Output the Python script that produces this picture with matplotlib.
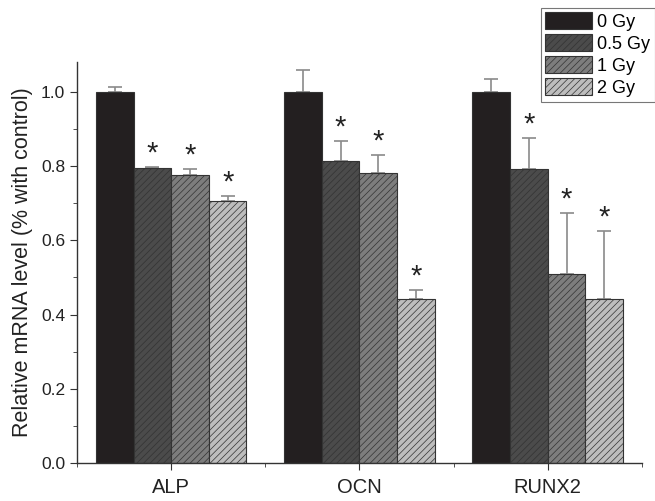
import numpy as np
import matplotlib
matplotlib.use("Agg")
import matplotlib.pyplot as plt
from matplotlib.ticker import MultipleLocator, FixedLocator

# Data
genes = ["ALP", "OCN", "RUNX2"]
doses = ["0 Gy", "0.5 Gy", "1 Gy", "2 Gy"]
means = {
    "0 Gy":   [1.000, 1.000, 1.000],
    "0.5 Gy": [0.795, 0.815, 0.791],
    "1 Gy":   [0.777, 0.781, 0.510],
    "2 Gy":   [0.707, 0.441, 0.443],
}
errors = {
    "0 Gy":   [0.013, 0.060, 0.034],
    "0.5 Gy": [0.004, 0.053, 0.086],
    "1 Gy":   [0.016, 0.050, 0.164],
    "2 Gy":   [0.012, 0.025, 0.183],
}
significant = {
    "0 Gy":   [False, False, False],
    "0.5 Gy": [True, True, True],
    "1 Gy":   [True, True, True],
    "2 Gy":   [True, True, True],
}

colors = ["#231f20", "#4b4b4b", "#7d7d7d", "#bdbdbd"]
hatches = [None, "/////", "/////", "/////"]

plt.rcParams["font.family"] = ["Liberation Sans", "DejaVu Sans"]
plt.rcParams["hatch.linewidth"] = 0.5
plt.rcParams["hatch.color"] = "#2a2a2a"

fig = plt.figure(figsize=(6.55, 5.01), dpi=100)
ax = fig.add_axes([0.1176, 0.0758, 0.8624, 0.800])

x = np.arange(len(genes))
width = 0.2
for i, dose in enumerate(doses):
    pos = x + (i - 1.5) * width
    ax.bar(pos, means[dose], width, color=colors[i], edgecolor="#333333",
           linewidth=0.8, hatch=hatches[i], label=dose, zorder=2)
    ax.errorbar(pos, means[dose], yerr=[np.zeros(3), errors[dose]], fmt="none",
                ecolor="#8a8a8a", elinewidth=1.2, capsize=5, capthick=1.2, zorder=1)
    for p, m, e, s in zip(pos, means[dose], errors[dose], significant[dose]):
        if s:
            ax.text(p, m + e - 0.002, "*", ha="center", va="bottom",
                    fontsize=21, color="#222222")

ax.set_xlim(-0.5, 2.5)
ax.set_ylim(0, 1.08)
ax.set_xticks(x)
ax.set_xticklabels(genes)
ax.xaxis.set_minor_locator(FixedLocator([-0.5, 0.5, 1.5, 2.5]))
ax.yaxis.set_major_locator(MultipleLocator(0.2))
ax.yaxis.set_minor_locator(MultipleLocator(0.1))
ax.yaxis.set_major_formatter(matplotlib.ticker.FormatStrFormatter("%.1f"))
ax.tick_params(axis="both", which="major", direction="out", length=5,
               color="#333333", labelsize=12.5, labelcolor="#222222")
ax.tick_params(axis="both", which="minor", direction="out", length=3, color="#333333")
ax.tick_params(axis="x", labelsize=14.5, pad=6)

for side in ["top", "right"]:
    ax.spines[side].set_visible(False)
for side in ["left", "bottom"]:
    ax.spines[side].set_color("#333333")
    ax.spines[side].set_linewidth(1.0)

ax.set_ylabel("Relative mRNA level (% with control)", fontsize=15.5, color="#222222",
              labelpad=6)

leg = fig.legend(loc="upper right", bbox_to_anchor=(1.0, 0.985), fontsize=13,
                 frameon=True, fancybox=False, handlelength=2.6, handleheight=1.05,
                 handletextpad=0.3, labelspacing=0.2, borderpad=0.25,
                 borderaxespad=0.0)
leg.get_frame().set_edgecolor("#555555")
leg.get_frame().set_linewidth(0.8)

fig.savefig("out.png", dpi=100)
